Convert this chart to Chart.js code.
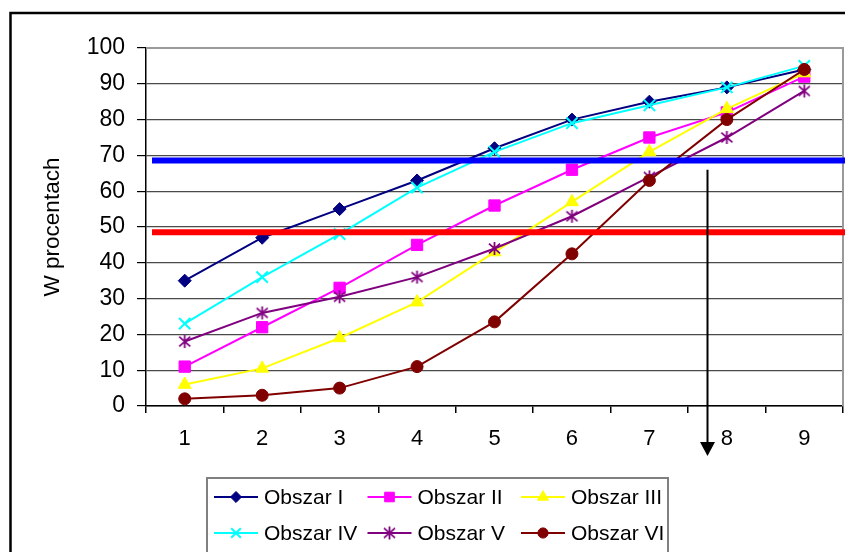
<!DOCTYPE html>
<html lang="pl">
<head>
<meta charset="UTF-8">
<title>W procentach</title>
<script src="https://cdn.jsdelivr.net/npm/chart.js"></script>
<style>
  body { margin: 0; background: #fff; }
  canvas { display: block; }
</style>
</head>
<body>
<canvas id="chart" width="845" height="552"></canvas>
<script>
  // dane
  const categories = ['1', '2', '3', '4', '5', '6', '7', '8', '9'];
  const seriesNames = ['Obszar I', 'Obszar II', 'Obszar III', 'Obszar IV', 'Obszar V', 'Obszar VI'];
  const obszarI   = [35, 47, 55, 63, 72, 80, 85, 89, 94];
  const obszarII  = [11, 22, 33, 45, 56, 66, 75, 82, 92];
  const obszarIII = [6, 10.5, 19, 29, 43, 57, 71, 83, 93];
  const obszarIV  = [23, 36, 48, 61, 71, 79, 84, 89, 95];
  const obszarV   = [18, 26, 30.5, 36, 44, 53, 64, 75, 88];
  const obszarVI  = [2, 3, 5, 11, 23.5, 42.5, 63, 80, 94];
  const thresholds = [68.6, 48.5];   // niebieska i czerwona linia
  const arrowAt = 7.75;              // pozycja strzałki na osi X
  const arrowFrom = 66, arrowTo = -14;

  const FONT = "'Liberation Sans', Arial, sans-serif";
  Chart.defaults.font.family = FONT;
  Chart.defaults.color = '#000';

  function starMarker(color, size) {
    const c = document.createElement('canvas');
    c.width = c.height = size;
    const g = c.getContext('2d');
    const m = size / 2, r = size / 2 - 1;
    g.strokeStyle = color;
    g.lineWidth = 1.8;
    g.beginPath();
    g.moveTo(m, m - r); g.lineTo(m, m + r);
    g.moveTo(m - r * 0.85, m - r * 0.75); g.lineTo(m + r * 0.85, m + r * 0.75);
    g.moveTo(m - r * 0.85, m + r * 0.75); g.lineTo(m + r * 0.85, m - r * 0.75);
    g.stroke();
    return c;
  }

  const colors = ['#000080', '#FF00FF', '#FFFF00', '#00FFFF', '#800080', '#800000'];
  const styles = ['rectRot', 'rect', 'triangle', 'crossRot', starMarker('#800080', 15), 'circle'];
  const radii = [6.5, 8, 7.5, 8, 7.5, 6];
  const values = [obszarI, obszarII, obszarIII, obszarIV, obszarV, obszarVI];

  const datasets = values.map((v, i) => ({
    label: seriesNames[i],
    data: v,
    borderColor: colors[i],
    backgroundColor: colors[i],
    borderWidth: 2,
    pointStyle: styles[i],
    pointRadius: radii[i],
    pointBorderWidth: i === 3 ? 2 : 1,
    pointBackgroundColor: colors[i],
    pointBorderColor: colors[i],
    tension: 0,
    order: 5 - i
  }));

  const thresholdColors = ['#0000FF', '#FF0000'];

  const decor = {
    id: 'decor',
    beforeDraw(chart) {
      const ctx = chart.ctx;
      ctx.save();
      ctx.fillStyle = '#fff';
      ctx.fillRect(0, 0, chart.width, chart.height);
      ctx.strokeStyle = '#000';
      ctx.lineWidth = 2.5;
      ctx.strokeRect(10.5, 13, 900, 700);
      ctx.restore();
    },
    beforeDatasetsDraw(chart) {
      const ctx = chart.ctx, a = chart.chartArea;
      ctx.save();
      ctx.strokeStyle = '#9a9a9a';
      ctx.lineWidth = 2;
      ctx.beginPath();
      ctx.moveTo(a.left, a.top);
      ctx.lineTo(a.right, a.top);
      ctx.lineTo(a.right, a.bottom);
      ctx.stroke();
      ctx.restore();
    },
    afterDatasetsDraw(chart) {
      const ctx = chart.ctx, a = chart.chartArea;
      const ys = chart.scales.y, xs = chart.scales.x;
      ctx.save();
      thresholds.forEach((v, i) => {
        const y = ys.getPixelForValue(v);
        ctx.strokeStyle = thresholdColors[i];
        ctx.lineWidth = 6;
        ctx.beginPath();
        ctx.moveTo(a.left + 6, y);
        ctx.lineTo(chart.width, y);
        ctx.stroke();
      });
      // strzałka
      const x = Math.round(xs.getPixelForValue(arrowAt - 1)) + 0.5;
      const y0 = ys.getPixelForValue(arrowFrom), y1 = ys.getPixelForValue(arrowTo);
      ctx.strokeStyle = '#000';
      ctx.fillStyle = '#000';
      ctx.lineWidth = 2;
      ctx.beginPath();
      ctx.moveTo(x, y0);
      ctx.lineTo(x, y1 - 12);
      ctx.stroke();
      ctx.beginPath();
      ctx.moveTo(x - 7.5, y1 - 14);
      ctx.lineTo(x + 7.5, y1 - 14);
      ctx.lineTo(x, y1);
      ctx.closePath();
      ctx.fill();
      ctx.restore();
    },
    afterDraw(chart) {
      const ctx = chart.ctx;
      ctx.save();
      ctx.strokeStyle = '#808080';
      ctx.lineWidth = 2;
      ctx.strokeRect(207, 478, 461, 100);
      chart.data.datasets.forEach((ds, i) => {
        const x0 = 214 + (i % 3) * 153.5;
        const y = 497 + Math.floor(i / 3) * 36;
        ctx.strokeStyle = ds.borderColor;
        ctx.lineWidth = 2;
        ctx.beginPath();
        ctx.moveTo(x0, y);
        ctx.lineTo(x0 + 44, y);
        ctx.stroke();
        ctx.fillStyle = ds.pointBackgroundColor;
        ctx.strokeStyle = ds.pointBorderColor;
        ctx.lineWidth = ds.pointBorderWidth;
        Chart.helpers.drawPoint(ctx, {
          pointStyle: ds.pointStyle,
          radius: ds.pointRadius * 0.85,
          borderWidth: ds.pointBorderWidth,
          rotation: 0
        }, x0 + 22, y);
        ctx.fillStyle = '#000';
        ctx.font = '21px ' + FONT;
        ctx.textBaseline = 'middle';
        ctx.textAlign = 'left';
        ctx.fillText(ds.label, x0 + 50, y + 1);
      });
      ctx.restore();
    }
  };

  new Chart(document.getElementById('chart'), {
    type: 'line',
    data: { labels: categories, datasets },
    options: {
      responsive: false,
      animation: false,
      layout: { autoPadding: false, padding: { left: 0, top: 48, right: 2, bottom: 96 } },
      plugins: { legend: { display: false }, tooltip: { enabled: false } },
      scales: {
        x: {
          offset: true,
          ticks: { color: '#000', font: { size: 22 }, padding: 13, maxRotation: 0 },
          grid: { offset: true, drawOnChartArea: false, tickLength: 7, color: '#000', lineWidth: 1.5 },
          border: { color: '#000', width: 1.5 },
          afterFit(s) { s.height = 50; s.paddingLeft = 0; s.paddingRight = 0; }
        },
        y: {
          min: 0,
          max: 100,
          ticks: { stepSize: 10, padding: 12, color: '#000', font: { size: 23 } },
          grid: {
            color: c => (c.tick && c.tick.value === 100) ? '#9a9a9a' : '#4a4a4a',
            tickColor: '#000',
            tickLength: 9,
            lineWidth: 1.2
          },
          border: { color: '#000', width: 1.5 },
          title: { display: true, text: 'W procentach', color: '#000', font: { size: 22.5 }, padding: { top: 39 } },
          afterFit(s) { s.width = 146; s.paddingTop = 0; s.paddingBottom = 0; }
        }
      }
    },
    plugins: [decor]
  });
</script>
</body>
</html>
